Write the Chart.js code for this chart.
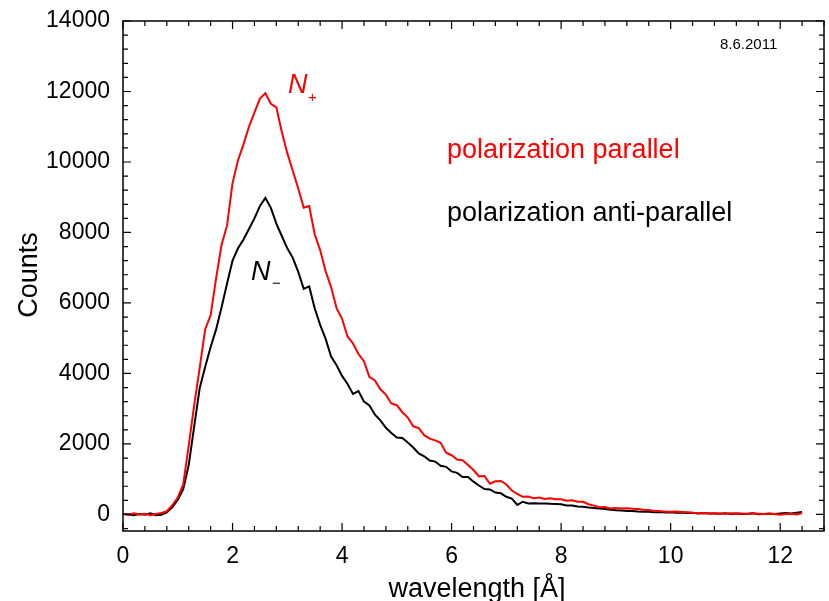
<!DOCTYPE html>
<html>
<head>
<meta charset="utf-8">
<script src="https://cdn.jsdelivr.net/npm/chart.js@4.4.1/dist/chart.umd.min.js"></script>
<style>
  body { margin: 0; background: #fff; }
  canvas { display: block; }
</style>
</head>
<body>
<canvas id="spectrum" width="829" height="601"></canvas>
<script>
// wavelength grid in Angstrom
const wavelength = [
  0.0, 0.1, 0.2, 0.3, 0.4, 0.5, 0.6, 0.7, 0.8, 0.9,
  1.0, 1.1, 1.2, 1.3, 1.4, 1.5, 1.6, 1.7, 1.8, 1.9,
  2.0, 2.1, 2.2, 2.3, 2.4, 2.5, 2.6, 2.7, 2.8, 2.9,
  3.0, 3.1, 3.2, 3.3, 3.4, 3.5, 3.6, 3.7, 3.8, 3.9,
  4.0, 4.1, 4.2, 4.3, 4.4, 4.5, 4.6, 4.7, 4.8, 4.9,
  5.0, 5.1, 5.2, 5.3, 5.4, 5.5, 5.6, 5.7, 5.8, 5.9,
  6.0, 6.1, 6.2, 6.3, 6.4, 6.5, 6.6, 6.7, 6.8, 6.9,
  7.0, 7.1, 7.2, 7.3, 7.4, 7.5, 7.6, 7.7, 7.8, 7.9,
  8.0, 8.1, 8.2, 8.3, 8.4, 8.5, 8.6, 8.7, 8.8, 8.9,
  9.0, 9.1, 9.2, 9.3, 9.4, 9.5, 9.6, 9.7, 9.8, 9.9,
  10.0, 10.1, 10.2, 10.3, 10.4, 10.5, 10.6, 10.7, 10.8, 10.9,
  11.0, 11.1, 11.2, 11.3, 11.4, 11.5, 11.6, 11.7, 11.8, 11.9,
  12.0, 12.1, 12.2, 12.3, 12.4
];

// N+ : polarization parallel
const countsParallel = [
  20, -10, 30, 0, 20, -20, 10, 40, 90, 260,
  480, 850, 1950, 3100, 4150, 5250, 5650, 6700, 7650, 8200,
  9400, 10050, 10500, 11000, 11400, 11800, 11950, 11650, 11550, 10850,
  10250, 9750, 9250, 8700, 8750, 7950, 7500, 6900, 6450, 5850,
  5550, 5050, 4850, 4550, 4350, 3900, 3800, 3550, 3400, 3150,
  3100, 2900, 2750, 2500, 2450, 2250, 2150, 2100, 2030, 1750,
  1680, 1560, 1540, 1400, 1260, 1080, 1090, 870, 940, 950,
  850, 680, 580, 500, 510, 460, 480, 440, 460, 430,
  430, 390, 400, 360, 360, 290, 250, 205, 210, 170,
  180, 165, 175, 160, 155, 130, 125, 100, 100, 75,
  75, 80, 70, 60, 45, 35, 40, 25, 35, 30,
  20, 35, 25, 30, 15, 30, 20, 10, 25, 15,
  -10, 10, 20, 0, 40
];

// N- : polarization anti-parallel
const countsAntiParallel = [
  10, 0, -20, 10, -10, 30, -20, -10, 60, 200,
  420, 720, 1400, 2500, 3580, 4180, 4750, 5250, 5880, 6550,
  7200, 7550, 7800, 8100, 8400, 8750, 8980, 8700, 8250, 7900,
  7550, 7280, 6880, 6400, 6470, 5850, 5380, 4980, 4480, 4230,
  3930, 3700, 3420, 3500, 3200, 3090, 2830, 2670, 2460, 2310,
  2180, 2170, 2040, 1900, 1730, 1650, 1530, 1500, 1380, 1350,
  1220, 1180, 1060, 1060, 930, 820, 720, 710, 620, 600,
  500, 450, 270, 360, 310, 320, 310, 310, 300, 295,
  290, 255, 255, 225, 220, 195, 185, 165, 155, 135,
  120, 115, 100, 95, 80, 75, 75, 60, 70, 55,
  60, 50, 55, 40, 50, 30, 40, 25, 30, 20,
  35, 15, 25, 10, 20, 30, 5, 15, 20, 10,
  25, 40, 30, 50, 70
];

const xTicks = [0, 2, 4, 6, 8, 10, 12];
const yTicks = [0, 2000, 4000, 6000, 8000, 10000, 12000, 14000];

const FONT = "'Liberation Sans', Arial, sans-serif";

function toPoints(ys) {
  return wavelength.map((x, i) => ({ x: x, y: ys[i] }));
}

// frame with inward ticks on all four sides, plus the text labels
const framePlugin = {
  id: 'frame',
  afterDatasetsDraw(chart) {
    const { ctx, chartArea: a, scales } = chart;
    const xs = scales.x, ys = scales.y;
    ctx.save();
    ctx.strokeStyle = '#000';
    ctx.lineWidth = 1.5;
    ctx.strokeRect(a.left, a.top, a.right - a.left, a.bottom - a.top);

    ctx.lineWidth = 1.2;
    ctx.beginPath();
    // x ticks (minor every 0.4)
    for (let k = 0; k <= 32; k++) {
      const v = k * 0.4;
      const px = xs.getPixelForValue(v);
      if (px > a.right + 0.5) break;
      const len = (k % 5 === 0) ? 8 : 5;
      ctx.moveTo(px, a.bottom); ctx.lineTo(px, a.bottom - len);
      ctx.moveTo(px, a.top); ctx.lineTo(px, a.top + len);
    }
    // y ticks (minor every 400)
    for (let k = -1; k <= 35; k++) {
      const v = k * 400;
      const py = ys.getPixelForValue(v);
      if (py > a.bottom + 0.5 || py < a.top - 0.5) continue;
      const len = (k % 5 === 0) ? 8 : 5;
      ctx.moveTo(a.left, py); ctx.lineTo(a.left + len, py);
      ctx.moveTo(a.right, py); ctx.lineTo(a.right - len, py);
    }
    ctx.stroke();

    // axis titles
    ctx.fillStyle = '#000';
    ctx.font = '27px ' + FONT;
    ctx.textAlign = 'center';
    ctx.textBaseline = 'alphabetic';
    ctx.fillText('wavelength [Å]', 477, 597);
    ctx.save();
    ctx.translate(37, 275);
    ctx.rotate(-Math.PI / 2);
    ctx.fillText('Counts', 0, 0);
    ctx.restore();

    // date stamp
    ctx.textAlign = 'left';
    ctx.font = '15px ' + FONT;
    ctx.fillText('8.6.2011', 720, 49);

    // legend texts
    ctx.font = '27px ' + FONT;
    ctx.fillStyle = '#ff0000';
    ctx.fillText('polarization parallel', 447, 158);
    ctx.fillStyle = '#000';
    ctx.fillText('polarization anti-parallel', 447, 221);

    // curve labels
    ctx.font = 'italic 27px ' + FONT;
    ctx.fillStyle = '#ff0000';
    ctx.fillText('N', 288, 93);
    ctx.font = '15px ' + FONT;
    ctx.textBaseline = 'middle';
    ctx.fillText('+', 308, 98);
    ctx.textBaseline = 'alphabetic';
    ctx.font = 'italic 27px ' + FONT;
    ctx.fillStyle = '#000';
    ctx.fillText('N', 251, 280);
    ctx.font = '15px ' + FONT;
    ctx.textBaseline = 'middle';
    ctx.fillText('\u2212', 272, 284);
    ctx.restore();
  }
};

new Chart(document.getElementById('spectrum'), {
  type: 'line',
  data: {
    datasets: [
      {
        label: 'polarization parallel',
        data: toPoints(countsParallel),
        borderColor: '#ff0000',
        borderWidth: 2,
        pointRadius: 0,
        tension: 0
      },
      {
        label: 'polarization anti-parallel',
        data: toPoints(countsAntiParallel),
        borderColor: '#000000',
        borderWidth: 2,
        pointRadius: 0,
        tension: 0
      }
    ]
  },
  options: {
    responsive: false,
    animation: false,
    devicePixelRatio: 1,
    layout: { padding: { left: 0, right: 5, top: 21, bottom: 0 } },
    plugins: {
      legend: { display: false },
      tooltip: { enabled: false }
    },
    scales: {
      x: {
        type: 'linear',
        min: 0,
        max: 12.8,
        afterBuildTicks: s => { s.ticks = xTicks.map(v => ({ value: v })); },
        afterFit: s => { s.height = 70; s.paddingLeft = 0; s.paddingRight = 0; },
        grid: { display: false, drawTicks: false },
        border: { display: false },
        ticks: {
          padding: 12,
          color: '#000',
          font: { family: FONT, size: 23 },
          maxRotation: 0,
          callback: v => String(v)
        }
      },
      y: {
        type: 'linear',
        min: -470,
        max: 14000,
        afterBuildTicks: s => { s.ticks = yTicks.map(v => ({ value: v })); },
        afterFit: s => { s.width = 123; s.paddingTop = 0; s.paddingBottom = 0; },
        grid: { display: false, drawTicks: false },
        border: { display: false },
        ticks: {
          padding: 13,
          color: '#000',
          font: { family: FONT, size: 23 },
          callback: v => String(v)
        }
      }
    }
  },
  plugins: [framePlugin]
});
</script>
</body>
</html>
